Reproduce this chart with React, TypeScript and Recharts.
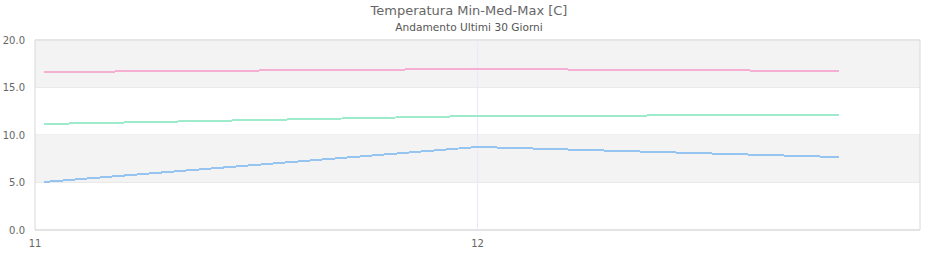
import { LineChart, Line, XAxis, YAxis, CartesianGrid, ReferenceArea, ReferenceLine } from 'recharts';

// asse x in giorni, tick "11" e "12"
const dayTicks = [0, 30];
const dayLabels = ['11', '12'];
const days = [0.6, 30, 54.5];

const tempMin = [5.05, 8.74, 7.68];
const tempMed = [11.16, 12.0, 12.11];
const tempMax = [16.632, 16.947, 16.737];

const yTicks = [0, 5, 10, 15, 20];
const bands = [
    [5, 10],
    [15, 20],
];

const data = days.map((d, i) => ({ d, min: tempMin[i], med: tempMed[i], max: tempMax[i] }));

const font = 'DejaVu Sans, Verdana, sans-serif';

const XTick = (props: any) => {
    const { x, y, payload } = props;
    return (
        <text x={x} y={y} dy={8} textAnchor="middle" fill="#666666" style={{ fill: '#666666' }} fontSize={10} fontFamily={font}>
            {dayLabels[dayTicks.indexOf(payload.value)]}
        </text>
    );
};

const YTick = (props: any) => {
    const { x, y, payload } = props;
    return (
        <text x={x} y={y} dy={3.6} textAnchor="end" fill="#666666" style={{ fill: '#666666' }} fontSize={10} fontFamily={font}>
            {payload.value.toFixed(1)}
        </text>
    );
};

export default function App() {
    return (
        <div style={{ position: 'absolute', left: 0, top: 0, width: 940, height: 260, background: '#fff' }}>
            <LineChart width={940} height={260} data={data} margin={{ top: 40, right: 20, left: 0, bottom: 0 }}>
                {bands.map(([a, b]) => (
                    <ReferenceArea key={a} y1={a} y2={b} fill="#f3f3f3" fillOpacity={1} stroke="none" ifOverflow="visible" />
                ))}
                <CartesianGrid vertical={false} stroke="#dedede" />
                <ReferenceLine x={dayTicks[1]} stroke="#e8e8ff" strokeWidth={1} />
                <ReferenceArea x1={0} x2={60} y1={0} y2={20} fill="none" stroke="#d8d8d8" strokeWidth={1} ifOverflow="visible" />
                <XAxis
                    type="number"
                    dataKey="d"
                    domain={[0, 60]}
                    ticks={dayTicks}
                    axisLine={false}
                    tickLine={false}
                    tickSize={0}
                    tickMargin={9}
                    height={30}
                    tick={<XTick />}
                />
                <YAxis
                    domain={[0, 20]}
                    ticks={yTicks}
                    axisLine={false}
                    tickLine={false}
                    tickSize={0}
                    tickMargin={10}
                    width={35}
                    tick={<YTick />}
                />
                <Line type="linear" dataKey="max" stroke="#f4afd3" strokeWidth={2} dot={false} shapeRendering="crispEdges" isAnimationActive={false} />
                <Line type="linear" dataKey="med" stroke="#9eebcb" strokeWidth={2} dot={false} shapeRendering="crispEdges" isAnimationActive={false} />
                <Line type="linear" dataKey="min" stroke="#95c4f1" strokeWidth={2} dot={false} shapeRendering="crispEdges" isAnimationActive={false} />
            </LineChart>
            <svg width={940} height={260} style={{ position: 'absolute', left: 0, top: 0, pointerEvents: 'none' }}>
                <text x={469} y={15} textAnchor="middle" fill="#666666" fontSize={13} fontFamily={font}>
                    Temperatura Min-Med-Max [C]
                </text>
                <text x={469} y={30.5} textAnchor="middle" fill="#555555" fontSize={10.6} fontFamily={font}>
                    Andamento Ultimi 30 Giorni
                </text>
            </svg>
        </div>
    );
}
